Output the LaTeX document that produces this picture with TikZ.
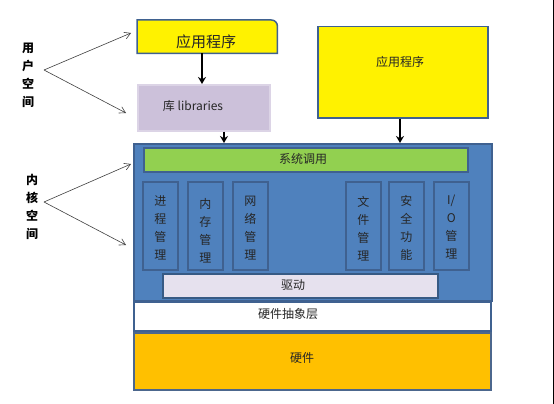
\documentclass[tikz,border=0pt]{standalone}
\usepackage{fontspec}
\setmainfont{Noto Sans CJK SC}
\usetikzlibrary{arrows.meta}
\definecolor{bord}{HTML}{3F6190}
\definecolor{kblue}{HTML}{4F81BD}
\definecolor{ygreen}{HTML}{92D050}
\definecolor{lib}{HTML}{CCC1DA}
\definecolor{libb}{HTML}{DCD4E6}
\definecolor{drv}{HTML}{E6E1EE}
\definecolor{hw}{HTML}{FFC000}
\tikzset{
  box/.style={draw=bord, line width=1.5pt, inner sep=0pt, anchor=north west},
  vbox/.style={box, fill=kblue, minimum width=35pt, minimum height=88pt},
  vtext/.style={font=\fontsize{12}{18}\selectfont, align=center, text=black!85},
  lbl/.style={font=\fontsize{12}{15}\selectfont, text=black!85},
  bigarrow/.style={line width=1.6pt, -{Stealth[length=7pt,width=8pt]}},
  thinarrow/.style={draw=black!75, line width=0.6pt, -{Straight Barb[length=6pt,width=7pt]}},
}
\begin{document}
\begin{tikzpicture}[x=1pt,y=-1pt]
\useasboundingbox (0,0) rectangle (554,404);
\fill[white] (0,0) rectangle (554,404);
% right edge line
\coordinate (e1) at (553,0);
\coordinate (e2) at (553,404);
\draw[line width=1pt] (e1) -- (e2);

% user space apps
\node[inner sep=0pt, minimum width=140pt, minimum height=33pt, anchor=north west] (app1) at (137,20) {};
\fill[yellow] (app1.south west) -- (app1.north west) -- ([xshift=-6pt]app1.north east) arc[start angle=90, end angle=0, radius=6pt] -- (app1.south east) -- cycle;
\draw[bord, line width=1.5pt] (app1.south west) -- (app1.north west) -- ([xshift=-6pt]app1.north east) arc[start angle=90, end angle=0, radius=6pt] -- (app1.south east) -- cycle;
\node[font=\fontsize{15}{18}\selectfont, text=black!85] (app1t) at (206,42) {应用程序};

\node[draw=libb, line width=1.5pt, fill=lib, inner sep=0pt, minimum width=132pt, minimum height=46pt, anchor=north west] (lib) at (137,84) {};
\node[lbl] (libt) at (193,106) {库 libraries};

\node[box, fill=yellow, minimum width=170pt, minimum height=91pt] (app2) at (317,26) {};
\node[lbl] (app2t) at (400,62) {应用程序};

% kernel
\node[box, fill=kblue, minimum width=358pt, minimum height=157pt] (kern) at (133,143) {};
\node[box, fill=ygreen, minimum width=324pt, minimum height=24pt] (sys) at (143,147) {};
\node[lbl] (syst) at (303,159) {系统调用};

\node[vbox] (p1) at (142,181) {};
\node[vtext] at ([yshift=-2.5pt]p1.center) {进\\程\\管\\理};
\node[vbox] (p2) at (187,181) {};
\node[vtext] at ([yshift=-4.5pt]p2.center) {内\\存\\管\\理};
\node[vbox] (p3) at (232,181) {};
\node[vtext] at ([yshift=-2pt]p3.center) {网\\络\\管\\理};
\node[vbox] (p4) at (345,181) {};
\node[vtext] at ([yshift=-2.5pt]p4.center) {文\\件\\管\\理};
\node[vbox] (p5) at (388,181) {};
\node[vtext] at ([yshift=-2.5pt]p5.center) {安\\全\\功\\能};
\node[vbox] (p6) at (433,181) {};
\node[vtext] at ([yshift=-1pt]p6.center) {I/\\O\\管\\理};

\node[box, draw=kblue!70!black, fill=drv, minimum width=275pt, minimum height=24pt] (drv) at (162,273) {};
\node[lbl] (drvt) at (293,285) {驱动};

% HAL and hardware
\node[box, fill=white, minimum width=357pt, minimum height=29pt] (hal) at (133,301) {};
\node[lbl] (halt) at (288,314) {硬件抽象层};
\node[box, draw=bord!80!gray, fill=hw, minimum width=357pt, minimum height=57pt] (hwb) at (133,332) {};
\node[lbl] (hwt) at (302,358) {硬件};

% vertical arrows
\draw[bigarrow] (app1.south -| 202,0) -- (lib.north -| 202,0);
\draw[bigarrow] (lib.south -| 224,0) -- (kern.north -| 224,0);
\draw[bigarrow] (app2.south -| 400,0) -- (kern.north -| 400,0);

% left labels
\node[font=\bfseries\fontsize{12}{18}\selectfont, align=center] (us) at (28,75) {用\\户\\空\\间};
\node[font=\bfseries\fontsize{12}{18}\selectfont, align=center] (ks) at (32,207) {内\\核\\空\\间};
\coordinate (uv) at (44,70);
\coordinate (ua) at (131,33);
\coordinate (ub) at (126,113);
\coordinate (kv) at (44,202);
\coordinate (ka) at (131,164);
\coordinate (kb) at (126,245);
\draw[thinarrow] (uv) -- (ua);
\draw[thinarrow] (uv) -- (ub);
\draw[thinarrow] (kv) -- (ka);
\draw[thinarrow] (kv) -- (kb);
\end{tikzpicture}
\end{document}
